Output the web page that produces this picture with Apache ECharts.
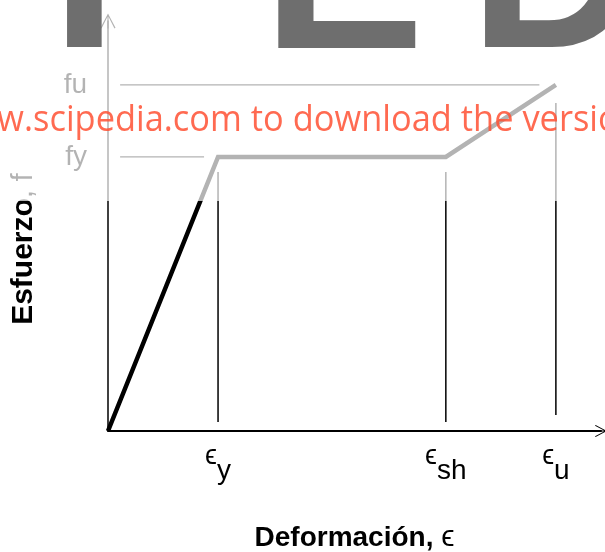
<!DOCTYPE html>
<html>
<head>
<meta charset="utf-8">
<script src="https://cdn.jsdelivr.net/npm/echarts@6/dist/echarts.min.js"></script>
<style>
  html, body { margin: 0; padding: 0; background: #fff; }
  #main { width: 605px; height: 552px; }
</style>
</head>
<body>
<div id="main"></div>
<script>
// curva esfuerzo-deformacion (esquematica), ey = 1, fy = 1
var strain = [0, 1, 3.07, 4.07];
var stress = [0, 1, 1, 1.263];

var strainTicks = [1, 3.07, 4.07];
var strainSubs = ['y', 'sh', 'u'];
var stressTicks = [1, 1.263];
var stressNames = ['fy', 'fu'];

// lineas verticales bajo ey, esh, eu
var guideTop = [0.945, 0.945, 1.197];
var guideBottom = [0.033, 0.033, 0.058];
// lineas horizontales de fy y fu
var refStart = [0.11, 0.11];
var refEnd = [0.873, 3.92];

var FONT = '"Liberation Sans", Arial, "DejaVu Sans", sans-serif';
var chevron = 'path://M10,0 L20,19 L18.6,20 L10,3 L1.4,20 L0,19 Z M9.3,1 L10.7,1 L10.7,20 L9.3,20 Z';

var myChart = echarts.init(document.getElementById('main'));

var series = [];
series.push({
  type: 'line',
  data: strain.map(function (x, i) { return [x, stress[i]]; }),
  symbol: 'none',
  lineStyle: { color: '#000', width: 4.5, join: 'miter' },
  z: 4,
  silent: true
});
strainTicks.forEach(function (x, i) {
  series.push({
    type: 'line',
    data: [[x, guideBottom[i]], [x, guideTop[i]]],
    symbol: 'none',
    lineStyle: { color: '#000', width: 1.5 },
    z: 3,
    silent: true
  });
});
stressTicks.forEach(function (y, i) {
  series.push({
    type: 'line',
    data: [[refStart[i], y], [refEnd[i], y]],
    symbol: 'none',
    lineStyle: { color: '#000', width: 1.2 },
    z: 3,
    silent: true
  });
});

myChart.setOption({
  animation: false,
  grid: { left: 108, right: 4, top: 21, bottom: 121, outerBoundsMode: 'none', containLabel: false },
  xAxis: {
    type: 'value',
    min: 0,
    max: 4.48,
    splitLine: { show: false },
    axisTick: { show: false },
    axisLine: {
      lineStyle: { color: '#000', width: 2 },
      symbol: ['none', chevron],
      symbolSize: [16, 12]
    },
    axisLabel: {
      customValues: strainTicks,
      margin: 12,
      formatter: function (v) {
        var i = strainTicks.indexOf(v);
        return '{e|ϵ}{s|' + strainSubs[i] + '}';
      },
      rich: {
        e: { fontSize: 27, fontFamily: FONT, color: '#000', verticalAlign: 'top', lineHeight: 42 },
        s: { fontSize: 28, fontFamily: FONT, color: '#000', verticalAlign: 'bottom', lineHeight: 42 }
      }
    },
    name: '{b|Deformación, }{r|ϵ}',
    nameLocation: 'middle',
    nameGap: 92,
    nameTextStyle: {
      rich: {
        b: { fontSize: 28, fontWeight: 'bold', fontFamily: FONT, color: '#000' },
        r: { fontSize: 30, fontFamily: FONT, color: '#000' }
      }
    }
  },
  yAxis: {
    type: 'value',
    min: 0,
    max: 1.496,
    splitLine: { show: false },
    axisTick: { show: false },
    axisLine: {
      lineStyle: { color: '#000', width: 1.5 },
      symbol: ['none', chevron],
      symbolSize: [15, 15]
    },
    axisLabel: {
      customValues: stressTicks,
      margin: 21,
      fontSize: 28,
      fontFamily: FONT,
      color: '#000',
      padding: [4, 0, 0, 0],
      formatter: function (v) {
        return stressNames[stressTicks.indexOf(v)];
      }
    }
  },
  graphic: [
    {
      type: 'text',
      x: 24,
      y: 249,
      rotation: Math.PI / 2,
      silent: true,
      z: 5,
      style: {
        text: '{b|Esfuerzo}{r|, f}',
        textAlign: 'center',
        textVerticalAlign: 'middle',
        rich: {
          b: { fontSize: 30, fontWeight: 'bold', fontFamily: FONT, fill: '#000' },
          r: { fontSize: 30, fontFamily: FONT, fill: '#000' }
        }
      }
    },
    {
      // velo blanco sobre la parte alta de la imagen
      type: 'rect',
      shape: { x: 0, y: 0, width: 605, height: 201 },
      style: { fill: 'rgba(255,255,255,0.7)' },
      silent: true,
      z: 100
    },
    { type: 'text', x: 51, y: -19, silent: true, z: 101,
      style: { text: 'I', font: 'bold 240px ' + FONT, fill: '#6e6e6e', textVerticalAlign: 'middle' } },
    { type: 'text', x: 262, y: -19, silent: true, z: 101,
      style: { text: 'E', font: 'bold 244px ' + FONT, fill: '#6e6e6e', textVerticalAlign: 'middle' } },
    { type: 'text', x: 469, y: -19, silent: true, z: 101,
      style: { text: 'D', font: 'bold 240px ' + FONT, fill: '#6e6e6e', textVerticalAlign: 'middle' } },
    {
      type: 'text', x: -56, y: 120, scaleX: 0.93, silent: true, z: 102,
      style: {
        text: 'www.scipedia.com to download the version of this document',
        font: '37px "Open Sans", sans-serif',
        fill: 'rgba(255,80,50,0.85)',
        textVerticalAlign: 'middle'
      }
    }
  ],
  series: series
});
</script>
</body>
</html>
